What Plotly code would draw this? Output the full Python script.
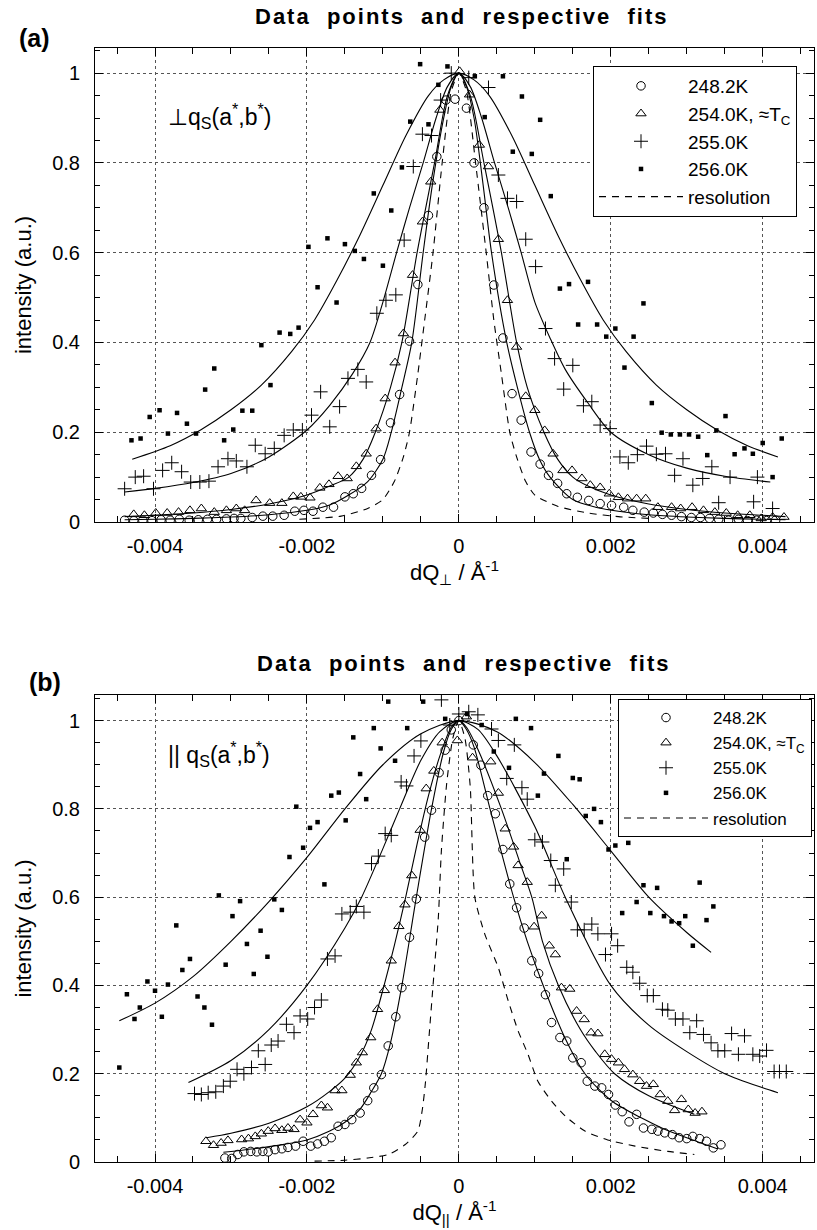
import plotly.graph_objects as go

FONT = "Liberation Sans, Arial, Helvetica, sans-serif"
W, H = 817, 1230

# ---------------- panel (a): perpendicular to q_S ----------------
a248_x = [-0.0044, -0.00428, -0.00416, -0.00404, -0.00392, -0.0038, -0.00368, -0.00355, -0.00343, -0.00331,
          -0.00319, -0.00306, -0.00296, -0.00287, -0.00272, -0.00258, -0.00245, -0.0023, -0.00216, -0.00204,
          -0.00192, -0.00179, -0.00165, -0.0015, -0.00139, -0.00128, -0.00115, -0.00103, -0.0009, -0.00078,
          -0.00065, -0.00054, -0.0004, -0.00029, -0.00017, -0.00005, 0.0001, 0.0002, 0.00033, 0.00046,
          0.00058, 0.0007, 0.00082, 0.00095, 0.00107, 0.00118, 0.0013, 0.00142, 0.00156, 0.00171,
          0.00186, 0.00201, 0.00217, 0.00229, 0.00244, 0.00256, 0.00268, 0.0028, 0.00293, 0.00306,
          0.00318, 0.0033, 0.00342, 0.00355, 0.00368, 0.0038, 0.00392, 0.00405, 0.00417]
a248_y = [0.004, 0.003, 0.004, 0.003, 0.005, 0.004, 0.006, 0.004, 0.005, 0.006,
          0.006, 0.007, 0.008, 0.008, 0.01, 0.013, 0.013, 0.015, 0.024, 0.026,
          0.024, 0.033, 0.033, 0.056, 0.063, 0.075, 0.104, 0.139, 0.221, 0.284,
          0.403, 0.529, 0.683, 0.814, 0.94, 0.942, 0.922, 0.8, 0.7, 0.528,
          0.41, 0.286, 0.227, 0.156, 0.129, 0.104, 0.086, 0.063, 0.055, 0.048,
          0.041, 0.037, 0.033, 0.026, 0.022, 0.02, 0.017, 0.015, 0.012, 0.01,
          0.01, 0.008, 0.006, 0.004, 0.006, 0.003, 0.004, 0.003, 0.004]

a254_x = [-0.00428, -0.00414, -0.00399, -0.00384, -0.00369, -0.00354, -0.00339, -0.00322, -0.00306, -0.00293,
          -0.00282, -0.00267, -0.00249, -0.00233, -0.00218, -0.00208, -0.00196, -0.00183, -0.00171, -0.00159,
          -0.00147, -0.00135, -0.00122, -0.00109, -0.00097, -0.00084, -0.00073, -0.00061, -0.00048, -0.00037,
          -0.00025, 0.00001, 0.00014, 0.00027, 0.00039, 0.00052, 0.00064, 0.00076, 0.00088, 0.001,
          0.00113, 0.00124, 0.00137, 0.00149, 0.00162, 0.00173, 0.00186, 0.00198, 0.0021, 0.00222,
          0.00234, 0.00246, 0.00262, 0.0028, 0.00292, 0.00307, 0.00322, 0.00337, 0.00352, 0.00367,
          0.00383, 0.00398, 0.00413, 0.00428]
a254_y = [0.017, 0.015, 0.02, 0.02, 0.022, 0.026, 0.03, 0.022, 0.026, 0.03,
          0.026, 0.048, 0.042, 0.042, 0.057, 0.056, 0.054, 0.076, 0.084, 0.102,
          0.097, 0.124, 0.152, 0.208, 0.275, 0.355, 0.42, 0.55, 0.669, 0.758,
          0.918, 1.004, 0.952, 0.84, 0.792, 0.63, 0.494, 0.39, 0.28, 0.249,
          0.204, 0.152, 0.115, 0.115, 0.097, 0.082, 0.077, 0.063, 0.055, 0.052,
          0.052, 0.052, 0.033, 0.033, 0.03, 0.033, 0.026, 0.022, 0.02, 0.015,
          0.015, 0.008, 0.011, 0.011]

a255_x = [-0.0044, -0.00426, -0.00415, -0.00402, -0.0039, -0.00378, -0.00365, -0.00353, -0.00341, -0.00329,
          -0.00317, -0.00304, -0.00293, -0.00279, -0.00268, -0.00255, -0.00243, -0.0023, -0.00218, -0.00206,
          -0.00194, -0.00182, -0.0017, -0.00157, -0.00146, -0.00133, -0.00122, -0.00108, -0.00096, -0.00083,
          -0.00072, -0.0006, -0.00048, -0.00036, -0.00024, -0.0001, 0.00013, 0.00039, 0.00052, 0.00064,
          0.00076, 0.00088, 0.00101, 0.00114, 0.00126, 0.00138, 0.0015, 0.00164, 0.00175, 0.00186,
          0.00199, 0.00212, 0.00223, 0.00235, 0.00247, 0.0026, 0.00272, 0.00284, 0.00295, 0.00308,
          0.00321, 0.00333, 0.00342, 0.00357, 0.00388, 0.00393, 0.00413]
a255_y = [0.074, 0.1, 0.102, 0.074, 0.115, 0.132, 0.112, 0.089, 0.089, 0.091,
          0.123, 0.141, 0.136, 0.123, 0.171, 0.152, 0.164, 0.193, 0.205, 0.205,
          0.238, 0.29, 0.212, 0.257, 0.32, 0.34, 0.312, 0.465, 0.494, 0.506,
          0.628, 0.792, 0.864, 0.861, 0.94, 1.0, 0.99, 0.968, 0.773, 0.721,
          0.714, 0.63, 0.569, 0.431, 0.364, 0.296, 0.349, 0.259, 0.268, 0.216,
          0.208, 0.145, 0.132, 0.15, 0.169, 0.151, 0.152, 0.104, 0.141, 0.082,
          0.097, 0.123, 0.043, 0.1, 0.045, 0.1, 0.03]

a256_x = [-0.00431, -0.00419, -0.00407, -0.00394, -0.00383, -0.00371, -0.00358, -0.00346, -0.00334, -0.00322,
          -0.00309, -0.00297, -0.00285, -0.00272, -0.0026, -0.00248, -0.00236, -0.00222, -0.00211, -0.00198,
          -0.00186, -0.00173, -0.00161, -0.0015, -0.00137, -0.00125, -0.00112, -0.001, -0.00089, -0.00075,
          -0.00064, -0.00051, -0.0004, -0.00027, -0.00015, 0.00021, 0.00034, 0.00058, 0.00071, 0.00083,
          0.00096, 0.00107, 0.00121, 0.00133, 0.00145, 0.00157, 0.0017, 0.00182, 0.00194, 0.00206,
          0.00218, 0.0023, 0.00243, 0.00254, 0.00267, 0.00279, 0.00291, 0.00303, 0.00315, 0.00327,
          0.00339, 0.00351, 0.00363, 0.00376, 0.00387, 0.004, 0.00413, 0.00425]
a256_y = [0.182, 0.186, 0.234, 0.249, 0.197, 0.243, 0.219, 0.197, 0.295, 0.342,
          0.182, 0.206, 0.248, 0.248, 0.394, 0.305, 0.422, 0.419, 0.433, 0.613,
          0.523, 0.632, 0.489, 0.619, 0.604, 0.586, 0.732, 0.571, 0.694, 0.79,
          0.892, 1.02, 0.886, 0.974, 1.015, 0.993, 0.902, 0.993, 0.825, 0.948,
          0.82, 0.896, 0.726, 0.52, 0.53, 0.44, 0.535, 0.44, 0.413, 0.431,
          0.344, 0.413, 0.487, 0.265, 0.199, 0.195, 0.195, 0.195, 0.19, 0.149,
          0.204, 0.236, 0.151, 0.164, 0.152, 0.176, 0.1, 0.186]

# fitted curves (a)
fa248_x = [-0.0044, -0.004, -0.0035, -0.003, -0.0025, -0.002, -0.0017, -0.00145, -0.0012, -0.001,
           -0.00089, -0.00075, -0.00062, -0.00047, -0.00035, -0.0002, -0.0001, 0, 0.0001, 0.0002,
           0.00032, 0.00043, 0.00063, 0.00077, 0.00093, 0.00106, 0.0012, 0.0015, 0.0018, 0.0021,
           0.0025, 0.003, 0.0035, 0.004, 0.0043]
fa248_y = [0.005, 0.006, 0.008, 0.011, 0.016, 0.026, 0.038, 0.06, 0.09, 0.14,
           0.2, 0.3, 0.4, 0.6, 0.75, 0.9, 0.97, 1.0, 0.97, 0.9,
           0.75, 0.6, 0.4, 0.3, 0.2, 0.14, 0.1, 0.05, 0.033, 0.024,
           0.016, 0.011, 0.008, 0.006, 0.005]
fa254_x = [-0.0044, -0.004, -0.0035, -0.003, -0.0025, -0.002, -0.0017, -0.00145, -0.00126, -0.0011,
           -0.0009, -0.00075, -0.00055, -0.00032, -0.00015, 0, 0.00015, 0.00033, 0.00056, 0.00076,
           0.0009, 0.00112, 0.0013, 0.0015, 0.0017, 0.002, 0.0025, 0.003, 0.0035, 0.004, 0.0043]
fa254_y = [0.012, 0.015, 0.02, 0.028, 0.04, 0.06, 0.08, 0.1, 0.14, 0.2,
           0.3, 0.4, 0.6, 0.8, 0.95, 1.0, 0.95, 0.8, 0.6, 0.4,
           0.3, 0.2, 0.14, 0.1, 0.08, 0.06, 0.04, 0.028, 0.02, 0.015, 0.012]
fa255_x = [-0.0044, -0.004, -0.0035, -0.003, -0.0025, -0.002, -0.0017, -0.0014, -0.00117, -0.001,
           -0.00082, -0.00065, -0.00047, -0.0003, -0.00015, 0, 0.00015, 0.0003, 0.00047, 0.00065,
           0.00082, 0.001, 0.0012, 0.0014, 0.0017, 0.002, 0.0025, 0.003, 0.0035, 0.0041]
fa255_y = [0.067, 0.075, 0.088, 0.108, 0.145, 0.205, 0.26, 0.33, 0.4, 0.49,
           0.6, 0.7, 0.8, 0.9, 0.97, 1.0, 0.97, 0.9, 0.8, 0.7,
           0.6, 0.49, 0.41, 0.34, 0.265, 0.2, 0.15, 0.12, 0.102, 0.089]
fa256_x = [-0.0043, -0.0038, -0.0034, -0.003, -0.0026, -0.0022, -0.0019, -0.0016, -0.0013, -0.001,
           -0.0007, -0.0004, -0.0002, 0, 0.0002, 0.0004, 0.0007, 0.001, 0.0013, 0.0016,
           0.0019, 0.0022, 0.0026, 0.003, 0.0034, 0.0038, 0.0042]
fa256_y = [0.14, 0.17, 0.205, 0.25, 0.305, 0.38, 0.45, 0.54, 0.64, 0.75,
           0.86, 0.95, 0.985, 1.0, 0.985, 0.95, 0.86, 0.75, 0.64, 0.54,
           0.45, 0.38, 0.305, 0.25, 0.205, 0.17, 0.145]
ares_x = [-0.0021, -0.00155, -0.0012, -0.001, -0.00085, -0.00073, -0.00065, -0.00054, -0.00045, -0.00034,
          -0.00022, -0.0001, 0, 0.0001, 0.00022, 0.00036, 0.00046, 0.00056, 0.00067, 0.00076,
          0.00088, 0.001, 0.0013, 0.0017, 0.0021, 0.0025]
ares_y = [0.006, 0.013, 0.03, 0.05, 0.09, 0.145, 0.2, 0.33, 0.45, 0.6,
          0.8, 0.96, 1.0, 0.96, 0.8, 0.6, 0.45, 0.33, 0.2, 0.145,
          0.09, 0.06, 0.035, 0.02, 0.012, 0.008]

# ---------------- panel (b): parallel to q_S ----------------
b248_x = [-0.00308, -0.00299, -0.00291, -0.00283, -0.00274, -0.00266, -0.00258, -0.00251, -0.00242, -0.00233,
          -0.00225, -0.00215, -0.00205, -0.00195, -0.00186, -0.00177, -0.00168, -0.00159, -0.0015, -0.00141,
          -0.0013, -0.0012, -0.00112, -0.00102, -0.00093, -0.00083, -0.00075, -0.00065, -0.00056, -0.00045,
          -0.00036, -0.00026, -0.00018, -0.0001, 0.0,
          0.00019, 0.00029, 0.00038, 0.00048, 0.00058, 0.00067, 0.00076, 0.00086, 0.00096, 0.00105,
          0.00114, 0.00122, 0.00133, 0.00142, 0.0015, 0.00161, 0.00169, 0.00179, 0.00188, 0.00197,
          0.00206, 0.00215, 0.00224, 0.00234, 0.00243, 0.00254, 0.00262, 0.00271, 0.00281, 0.0029,
          0.003, 0.00308, 0.00317, 0.00326, 0.00335, 0.00345]
b248_y = [0.009, 0.008, 0.017, 0.023, 0.024, 0.023, 0.024, 0.023, 0.028, 0.03,
          0.033, 0.036, 0.047, 0.036, 0.041, 0.047, 0.055, 0.081, 0.085, 0.096,
          0.111, 0.139, 0.168, 0.198, 0.263, 0.329, 0.395, 0.509, 0.596, 0.736,
          0.797, 0.882, 0.933, 0.979, 1.0,
          0.945, 0.899, 0.83, 0.789, 0.708, 0.63, 0.576, 0.53, 0.456, 0.427,
          0.379, 0.316, 0.282, 0.274, 0.236, 0.225, 0.183, 0.172, 0.168, 0.153,
          0.129, 0.114, 0.091, 0.108, 0.077, 0.074, 0.07, 0.066, 0.062, 0.055,
          0.053, 0.058, 0.053, 0.047, 0.032, 0.039]

b254_x = [-0.00333, -0.00323, -0.00313, -0.00304, -0.00286, -0.00277, -0.00268, -0.0026, -0.00251, -0.00242,
          -0.00233, -0.00225, -0.00217, -0.00209, -0.002, -0.00192, -0.00181, -0.00173, -0.00163, -0.00154,
          -0.00143, -0.00135, -0.00127, -0.00116, -0.00107, -0.00098, -0.00089, -0.00079, -0.00071, -0.00062,
          -0.00051, -0.00043, -0.00033, -0.00022, -0.00002,
          0.0001, 0.00018, 0.00042, 0.00052, 0.00061, 0.00072, 0.00078, 0.0009, 0.00099, 0.00109,
          0.00119, 0.00127, 0.00135, 0.00146, 0.00155, 0.00165, 0.00174, 0.00183, 0.00192, 0.00201,
          0.0021, 0.00218, 0.00229, 0.00238, 0.00247, 0.00256, 0.00265, 0.00275, 0.00284, 0.00293,
          0.00302, 0.00311, 0.0032]
b254_y = [0.047, 0.038, 0.043, 0.049, 0.051, 0.053, 0.058, 0.064, 0.07, 0.076,
          0.072, 0.077, 0.074, 0.096, 0.089, 0.108, 0.128, 0.123, 0.162, 0.162,
          0.197, 0.225, 0.248, 0.282, 0.346, 0.389, 0.456, 0.534, 0.583, 0.649,
          0.752, 0.846, 0.886, 0.95, 0.955,
          1.009, 0.916, 0.907, 0.836, 0.755, 0.714, 0.672, 0.634, 0.533, 0.558,
          0.49, 0.47, 0.395, 0.392, 0.342, 0.323, 0.293, 0.291, 0.244, 0.233,
          0.225, 0.21, 0.198, 0.183, 0.172, 0.176, 0.153, 0.138, 0.117, 0.142,
          0.119, 0.111, 0.114]

b255_x = [-0.00348, -0.00339, -0.0033, -0.0032, -0.0031, -0.00301, -0.00292, -0.00283, -0.00273, -0.00264,
          -0.00255, -0.00247, -0.00238, -0.00227, -0.00217, -0.00209, -0.00199, -0.0019, -0.00181, -0.00173,
          -0.00163, -0.00154, -0.00143, -0.00135, -0.00125, -0.00115, -0.00106, -0.00097, -0.00089, -0.00076,
          -0.00069, -0.00059, -0.0005, -0.00023, -0.00012, 0.0,
          0.00013, 0.00025, 0.00043, 0.00052, 0.00063, 0.00073, 0.00083, 0.0009, 0.001, 0.0011,
          0.00121, 0.00127, 0.00138, 0.00148, 0.00156, 0.00165, 0.00175, 0.00183, 0.00193, 0.00201,
          0.00209, 0.00221, 0.00229, 0.00238, 0.00248, 0.00256, 0.00268, 0.00275, 0.00285, 0.00295,
          0.00304, 0.00313, 0.00322, 0.00332, 0.00341, 0.0035, 0.00359, 0.00368, 0.00376, 0.00387,
          0.00396, 0.00405, 0.00415, 0.00422, 0.00431]
b255_y = [0.155, 0.153, 0.157, 0.159, 0.172, 0.183, 0.21, 0.2, 0.214, 0.252,
          0.221, 0.265, 0.274, 0.312, 0.293, 0.331, 0.324, 0.35, 0.367, 0.46,
          0.467, 0.562, 0.566, 0.579, 0.566, 0.676, 0.693, 0.744, 0.74, 0.861,
          0.852, 0.92, 0.954, 1.047, 0.99, 1.015,
          1.02, 1.013, 0.981, 0.955, 0.869, 0.945, 0.848, 0.822, 0.73, 0.725,
          0.683, 0.627, 0.664, 0.589, 0.526, 0.526, 0.539, 0.517, 0.47, 0.517,
          0.49, 0.441, 0.43, 0.405, 0.377, 0.377, 0.346, 0.344, 0.324, 0.324,
          0.293, 0.32, 0.289, 0.27, 0.252, 0.252, 0.291, 0.244, 0.286, 0.244,
          0.24, 0.253, 0.205, 0.205, 0.205]

b256_x = [-0.00447, -0.00437, -0.00427, -0.0042, -0.0041, -0.004, -0.00391, -0.00383, -0.00372, -0.00364,
          -0.00354, -0.00344, -0.00335, -0.00325, -0.00316, -0.00307, -0.00298, -0.00288, -0.00279, -0.0027,
          -0.00261, -0.00252, -0.00243, -0.00233, -0.00223, -0.00214, -0.00205, -0.00196, -0.00186, -0.00177,
          -0.00168, -0.00158, -0.00149, -0.00139, -0.0013, -0.00122, -0.00112, -0.00103, -0.00093, -0.00084,
          -0.00068, -0.00047, -0.00018,
          0.00011, 0.0003, 0.00046, 0.00066, 0.00075, 0.00095, 0.00104, 0.00112, 0.00131, 0.00142,
          0.0015, 0.00159, 0.00167, 0.00178, 0.00187, 0.00197, 0.00206, 0.00215, 0.00223, 0.00234,
          0.00243, 0.00252, 0.00261, 0.0027, 0.0028, 0.0029, 0.00298, 0.00308, 0.00317, 0.00326,
          0.00335]
b256_y = [0.214, 0.38, 0.324, 0.35, 0.409, 0.388, 0.329, 0.402, 0.536, 0.435,
          0.46, 0.375, 0.35, 0.311, 0.604, 0.447, 0.557, 0.591, 0.494, 0.426,
          0.524, 0.465, 0.595, 0.571, 0.691, 0.805, 0.712, 0.757, 0.77, 0.629,
          0.83, 0.837, 0.774, 0.962, 0.879, 0.822, 0.983, 0.937, 1.043, 0.909,
          0.983, 1.043, 1.004,
          1.015, 0.99, 0.93, 0.893, 1.004, 0.983, 0.83, 0.88, 0.92, 0.686,
          0.87, 0.867, 0.784, 0.8, 0.77, 0.708, 0.717, 0.564, 0.723, 0.589,
          0.627, 0.564, 0.621, 0.557, 0.545, 0.541, 0.557, 0.49, 0.633, 0.548,
          0.579]

fb248_x = [-0.0031, -0.0027, -0.0023, -0.002, -0.0017, -0.0015, -0.0013, -0.00115, -0.00102, -0.0009,
           -0.00075, -0.00056, -0.00036, -0.0002, -0.0001, 0, 0.0001, 0.0002, 0.00041, 0.00072,
           0.0009, 0.00111, 0.0014, 0.00166, 0.002, 0.0024, 0.0027, 0.003, 0.0034]
fb248_y = [0.022, 0.03, 0.04, 0.05, 0.07, 0.09, 0.12, 0.16, 0.2, 0.27,
           0.4, 0.6, 0.8, 0.93, 0.98, 1.0, 0.98, 0.94, 0.8, 0.6,
           0.5, 0.4, 0.28, 0.2, 0.14, 0.1, 0.075, 0.055, 0.03]
fb254_x = [-0.00332, -0.003, -0.0025, -0.002, -0.0017, -0.0015, -0.0013, -0.00115, -0.001, -0.00085,
           -0.0007, -0.00055, -0.0004, -0.00025, -0.0001, 0, 0.0001, 0.00025, 0.00056, 0.0008,
           0.00096, 0.0011, 0.00131, 0.0016, 0.0018, 0.00205, 0.0025, 0.0031]
fb254_y = [0.055, 0.065, 0.088, 0.125, 0.16, 0.19, 0.24, 0.3, 0.39, 0.49,
           0.6, 0.72, 0.83, 0.92, 0.985, 1.0, 0.985, 0.935, 0.8, 0.68,
           0.6, 0.5, 0.4, 0.3, 0.25, 0.2, 0.15, 0.108]
fb255_x = [-0.00356, -0.003, -0.0025, -0.002, -0.0015, -0.00128, -0.001, -0.00078, -0.0005, -0.00025,
           0, 0.00025, 0.0005, 0.001, 0.0014, 0.002, 0.0025, 0.003, 0.0035, 0.004, 0.0042]
fb255_y = [0.18, 0.23, 0.3, 0.4, 0.53, 0.6, 0.71, 0.8, 0.91, 0.975,
           1.0, 0.98, 0.92, 0.76, 0.6, 0.4, 0.31, 0.25, 0.2, 0.168, 0.157]
fb256_x = [-0.00447, -0.004, -0.0035, -0.003, -0.0025, -0.002, -0.0015, -0.001, -0.0005, 0,
           0.0005, 0.001, 0.0015, 0.002, 0.0025, 0.003, 0.00332]
fb256_y = [0.32, 0.36, 0.42, 0.5, 0.59, 0.69, 0.8, 0.9, 0.97, 1.0,
           0.975, 0.905, 0.81, 0.705, 0.6, 0.52, 0.475]
bres_x = [-0.0019, -0.0015, -0.0012, -0.00093, -0.00071, -0.00054, -0.00048, -0.00044, -0.00039, -0.00034,
          -0.00027, -0.00023, -0.00016, -0.00008, 0, 0.00008, 0.00015, 0.00021, 0.00034, 0.00052,
          0.00065, 0.00078, 0.00091, 0.00104, 0.00122, 0.0014, 0.00166, 0.00196, 0.00232, 0.00275, 0.0031]
bres_y = [0.002, 0.004, 0.009, 0.017, 0.039, 0.07, 0.12, 0.18, 0.29, 0.4,
          0.555, 0.706, 0.858, 0.96, 1.0, 0.96, 0.85, 0.6, 0.517, 0.44,
          0.365, 0.297, 0.244, 0.183, 0.138, 0.104, 0.07, 0.05, 0.036, 0.024, 0.017]

# labels
series_names = ["248.2K", "254.0K, \u2248T<sub>C</sub>", "255.0K", "256.0K"]
res_name = "resolution"
x_tickvals = [-0.004, -0.002, 0, 0.002, 0.004]
x_ticktext = ["-0.004", "-0.002", "0", "0.002", "0.004"]
y_tickvals = [0, 0.2, 0.4, 0.6, 0.8, 1.0]
y_ticktext = ["0", "0.2", "0.4", "0.6", "0.8", "1"]
GAP = "\u00a0 "
title_text = ("<span style='letter-spacing:2px'><b>Data" + GAP + "points" + GAP + "and" + GAP
              + "respective" + GAP + "fits</b></span>")

# ---------------- figure ----------------
fig = go.Figure()

MARKERS = [
    dict(symbol="circle-open", size=8.5, color="black", line=dict(color="black", width=1)),
    dict(symbol="triangle-up-open", size=9, color="black", line=dict(color="black", width=1)),
    dict(symbol="cross-thin-open", size=10, color="black", line=dict(color="black", width=1)),
    dict(symbol="square", size=4.5, color="black", line=dict(width=0)),
]


def add_panel(xa, ya, legend, data, fits, res):
    for fx, fy in fits:
        fig.add_trace(go.Scatter(x=fx, y=fy, mode="lines", xaxis=xa, yaxis=ya,
                                 line=dict(color="black", width=1.1, shape="spline", smoothing=0.8),
                                 showlegend=False, hoverinfo="skip"))
    for (dx, dy), name, mk in zip(data, series_names, MARKERS):
        fig.add_trace(go.Scatter(x=dx, y=dy, mode="markers", name=name, xaxis=xa, yaxis=ya,
                                 marker=mk, legend=legend))
    fig.add_trace(go.Scatter(x=res[0], y=res[1], mode="lines", name=res_name, xaxis=xa, yaxis=ya,
                             line=dict(color="black", width=1.1, dash="7px,6px", shape="spline", smoothing=0.6),
                             legend=legend))


add_panel("x", "y", "legend",
          [(a248_x, a248_y), (a254_x, a254_y), (a255_x, a255_y), (a256_x, a256_y)],
          [(fa248_x, fa248_y), (fa254_x, fa254_y), (fa255_x, fa255_y), (fa256_x, fa256_y)],
          (ares_x, ares_y))
add_panel("x2", "y2", "legend2",
          [(b248_x, b248_y), (b254_x, b254_y), (b255_x, b255_y), (b256_x, b256_y)],
          [(fb248_x, fb248_y), (fb254_x, fb254_y), (fb255_x, fb255_y), (fb256_x, fb256_y)],
          (bres_x, bres_y))

XDOM = [95 / W, 814 / W]
XRANGE = [-0.00479, 0.004675]


def xaxis(title):
    return dict(domain=XDOM, range=XRANGE, tickvals=x_tickvals, ticktext=x_ticktext,
                showline=True, linecolor="black", linewidth=1, mirror="allticks",
                ticks="inside", ticklen=8, tickwidth=1, tickcolor="black",
                showgrid=True, gridcolor="#555", griddash="dot", gridwidth=1, zeroline=False,
                tickfont=dict(size=20, family=FONT, color="black"), ticklabelstandoff=6,
                minor=dict(dtick=0.0005, tick0=0, ticks="inside", ticklen=6, tickcolor="black", showgrid=False),
                title=dict(text=title, font=dict(size=22, family=FONT, color="black"), standoff=4))


def yaxis(dom, top):
    return dict(domain=dom, range=[0, top], tickvals=y_tickvals, ticktext=y_ticktext,
                showline=True, linecolor="black", linewidth=1, mirror="allticks",
                ticks="inside", ticklen=8, tickwidth=1, tickcolor="black",
                showgrid=True, gridcolor="#555", griddash="dot", gridwidth=1, zeroline=False,
                tickfont=dict(size=20, family=FONT, color="black"), ticklabelstandoff=10,
                minor=dict(dtick=0.05, tick0=0, ticks="inside", ticklen=5, tickcolor="black", showgrid=False),
                title=dict(text="intensity (a.u.)", font=dict(size=22, family=FONT, color="black"), standoff=14))


LEG = dict(xanchor="left", yanchor="top", bordercolor="black", borderwidth=1, bgcolor="white",
           itemwidth=84, tracegroupgap=0, traceorder="normal")

fig.update_layout(
    width=W, height=H, margin=dict(l=0, r=0, t=0, b=0, autoexpand=False),
    paper_bgcolor="white", plot_bgcolor="white",
    font=dict(family=FONT, color="black", size=20),
    xaxis=xaxis("dQ<sub>\u22a5</sub> / \u00c5<sup>-1</sup>"),
    yaxis=yaxis([1 - 522 / H, 1 - 48 / H], 1.056),
    xaxis2=xaxis("dQ<sub>||</sub> / \u00c5<sup>-1</sup>") | dict(anchor="y2"),
    yaxis2=yaxis([1 - 1162 / H, 1 - 695 / H], 1.058) | dict(anchor="x2"),
    legend=LEG | dict(x=593 / W, y=1 - 66 / H, font=dict(size=19, family=FONT, color="black")),
    legend2=LEG | dict(x=618 / W, y=1 - 699 / H, font=dict(size=17, family=FONT, color="black")),
    showlegend=True,
)

ann = [
    dict(text="<b>(a)</b>", x=34 / W, y=1 - 38 / H, xref="paper", yref="paper", font=dict(size=25)),
    dict(text="<b>(b)</b>", x=45 / W, y=1 - 682 / H, xref="paper", yref="paper", font=dict(size=25)),
    dict(text=title_text, x=462 / W, y=1 - 17 / H, xref="paper", yref="paper", font=dict(size=22)),
    dict(text=title_text, x=464 / W, y=1 - 663 / H, xref="paper", yref="paper", font=dict(size=22)),
    dict(text="\u22a5q<sub>S</sub>(a<sup>*</sup>,b<sup>*</sup>)", x=-0.00385, y=0.905, xref="x", yref="y",
         xanchor="left", font=dict(size=23)),
    dict(text="|| q<sub>S</sub>(a<sup>*</sup>,b<sup>*</sup>)", x=-0.00385, y=0.925, xref="x2", yref="y2",
         xanchor="left", font=dict(size=23)),
]
for a in ann:
    a.setdefault("showarrow", False)
    a.setdefault("xanchor", "center")
    a.setdefault("yanchor", "middle")
    a["font"] = dict(family=FONT, color="black", **a["font"])
    fig.add_annotation(**a)

fig.write_html("out.html")
